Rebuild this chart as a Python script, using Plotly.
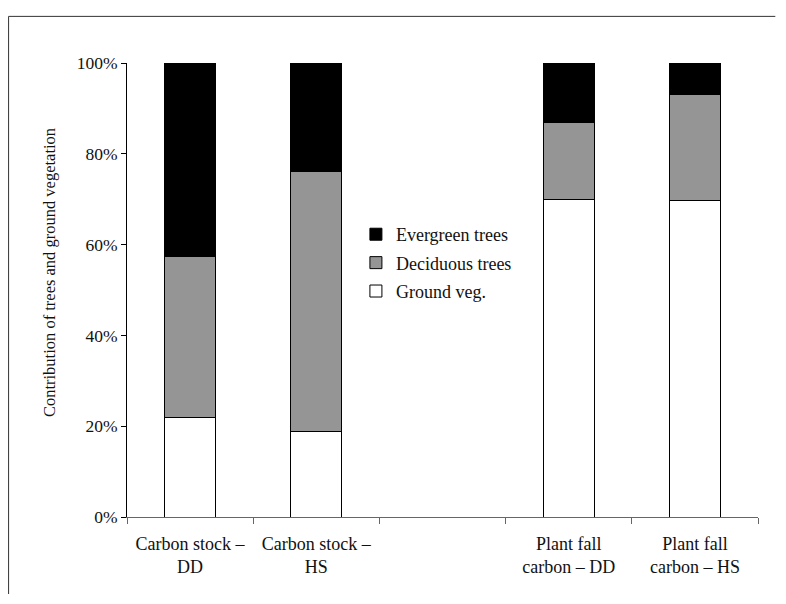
import plotly.graph_objects as go

categories = ["Carbon stock –<br>DD", "Carbon stock –<br>HS", " ",
              "Plant fall<br>carbon – DD", "Plant fall<br>carbon – HS"]
ground_veg = [21.9, 18.9, None, 70.0, 69.7]
deciduous = [35.4, 57.1, None, 16.9, 23.4]
evergreen = [42.7, 24.0, None, 13.1, 6.9]
y_ticks = [0, 20, 40, 60, 80, 100]
y_tick_labels = ["0%", "20%", "40%", "60%", "80%", "100%"]

FONT = "Liberation Serif"
OFF = 8  # page body margin
W, H = 786 - 2 * OFF, 604 - 2 * OFF - 2
# plot area in page pixels: x 127.3..757.7, y 62.7..517.5
PX0, PX1, PY0, PY1 = 127.3, 757.7, 62.7, 517.5
L = PX0 - OFF
R = W - (PX1 - OFF)
T = PY0 - OFF
B = H - (PY1 - OFF)
pw, ph = W - L - R, H - T - B

def px_x(px):
    return (px - OFF - L) / pw

def px_y(py):
    return (H - B - (py - OFF)) / ph

fig = go.Figure()
series = [("Ground veg.", ground_veg, "#ffffff", 3),
          ("Deciduous trees", deciduous, "#959595", 2),
          ("Evergreen trees", evergreen, "#000000", 1)]
for name, vals, col, rank in series:
    fig.add_trace(go.Bar(x=categories, y=vals, name=name, width=0.405,
                         legendgroup=name, legendrank=rank,
                         marker=dict(color=col, line=dict(color="#000000", width=1))))

border = dict(color="#333333", width=1)
fig.update_layout(
    width=W, height=H, barmode="stack",
    margin=dict(l=L, r=R, t=T, b=B, pad=0),
    paper_bgcolor="white", plot_bgcolor="white",
    font=dict(family=FONT, size=17, color="#111111"),
    showlegend=True,
    legend=dict(x=px_x(356), y=px_y(216), xanchor="left", yanchor="top",
                traceorder="grouped", tracegroupgap=2,
                font=dict(size=18, family=FONT),
                bgcolor="rgba(0,0,0,0)"),
    xaxis=dict(type="category", range=[-0.5, 4.5], showline=True, linecolor="#666666",
               linewidth=1, ticks="outside", tickson="boundaries", ticklen=6,
               tickcolor="#666666", tickfont=dict(size=18, family=FONT),
               ticklabelstandoff=10,
               showgrid=False, zeroline=False),
    yaxis=dict(range=[0, 100], tickvals=y_ticks, ticktext=y_tick_labels,
               showline=True, linecolor="#000000", linewidth=1, ticks="outside",
               ticklen=5, tickcolor="#000000", showgrid=False, zeroline=False,
               tickfont=dict(size=17.5, family=FONT)),
    shapes=[
        dict(type="line", xref="paper", yref="paper",
             x0=px_x(9), x1=px_x(775), y0=px_y(16), y1=px_y(16), line=border),
        dict(type="line", xref="paper", yref="paper",
             x0=px_x(9), x1=px_x(9), y0=px_y(16), y1=px_y(595), line=border),
    ],
    annotations=[dict(text="Contribution of trees and ground vegetation",
                      xref="paper", yref="paper", x=px_x(50), y=px_y(272.5),
                      textangle=-90, showarrow=False, xanchor="center", yanchor="middle",
                      font=dict(size=16.5, family=FONT))],
)

fig.write_html("out.html")
